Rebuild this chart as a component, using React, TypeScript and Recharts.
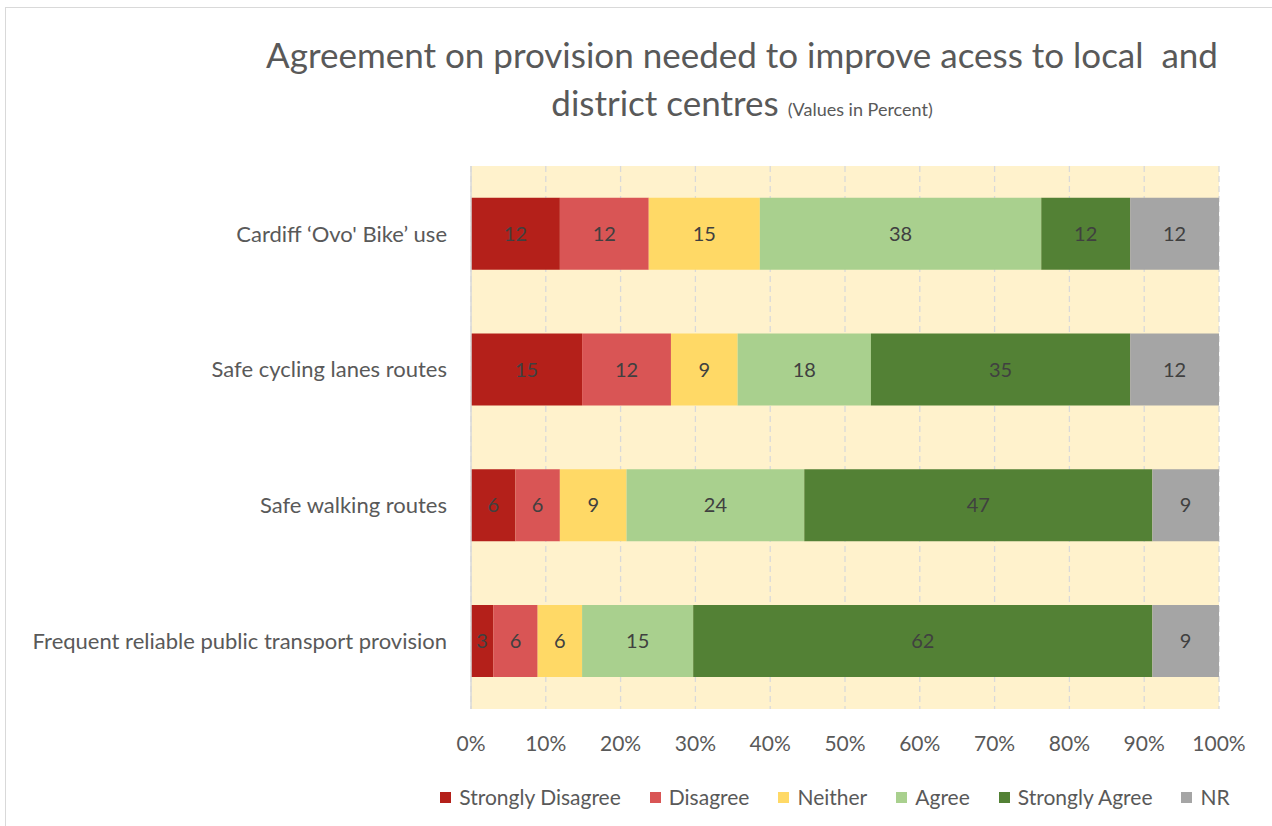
import React from "react";
import { BarChart, Bar, XAxis, YAxis, CartesianGrid, LabelList } from "recharts";

const categories = [
  "Cardiff ‘Ovo' Bike’ use",
  "Safe cycling lanes routes",
  "Safe walking routes",
  "Frequent reliable public transport provision",
];
const stronglyDisagree = [12, 15, 6, 3];
const disagree = [12, 12, 6, 6];
const neither = [15, 9, 9, 6];
const agree = [38, 18, 24, 15];
const stronglyAgree = [12, 35, 47, 62];
const noResponse = [12, 12, 9, 9];
const xTicks = [0, 0.1, 0.2, 0.3, 0.4, 0.5, 0.6, 0.7, 0.8, 0.9, 1];

const series = [
  { key: "sd", name: "Strongly Disagree", values: stronglyDisagree, color: "#B4201A" },
  { key: "d", name: "Disagree", values: disagree, color: "#D95555" },
  { key: "n", name: "Neither", values: neither, color: "#FFD966" },
  { key: "a", name: "Agree", values: agree, color: "#A9D08E" },
  { key: "sa", name: "Strongly Agree", values: stronglyAgree, color: "#538135" },
  { key: "nr", name: "NR", values: noResponse, color: "#A5A5A5" },
];

const data = categories.map((cat, i) => {
  const row: Record<string, string | number> = { cat };
  series.forEach((s) => (row[s.key] = s.values[i]));
  return row;
});

const font = "Lato, 'Open Sans', sans-serif";

export default function App() {
  return (
    <div style={{ position: "absolute", left: 0, top: 0, width: 1272, height: 826, background: "#fff", fontFamily: font, overflow: "hidden" }}>
      <div style={{ position: "absolute", left: 5, top: 7, width: 1300, height: 900, border: "1.5px solid #D9D9D9" }} />
      <div style={{ position: "absolute", left: 242, width: 1000, top: 30, textAlign: "center", color: "#595959", fontSize: 35, lineHeight: "48px" }}>
        Agreement on provision needed to improve acess to local&nbsp; and
        <br />
        district centres <span style={{ fontSize: 18 }}>(Values in Percent)</span>
      </div>
      <BarChart
        width={1272}
        height={826}
        data={data}
        layout="vertical"
        stackOffset="expand"
        barCategoryGap="23.4%"
        margin={{ top: 166, right: 53, bottom: 37, left: 21 }}
        style={{ position: "absolute", left: 0, top: 0 }}
      >
        <CartesianGrid horizontal={false} fill="#FFF2CC" stroke="#D9D9D9" strokeDasharray="6 4" strokeWidth={1.3} />
        <XAxis
          type="number"
          domain={[0, 1]}
          ticks={xTicks}
          tickFormatter={(v) => `${Math.round(v * 100)}%`}
          axisLine={false}
          tickLine={false}
          height={80}
          tickMargin={21}
          tick={{ fill: "#595959", fontSize: 21, fontFamily: font }}
          interval={0}
        />
        <YAxis
          type="category"
          dataKey="cat"
          width={450}
          axisLine={{ stroke: "#D9D9D9", strokeWidth: 1.5 }}
          tickLine={false}
          tickMargin={18}
          tick={{ fill: "#595959", fontSize: 22, fontFamily: font }}
          interval={0}
        />
        {series.map((s) => (
          <Bar key={s.key} dataKey={s.key} name={s.name} stackId="a" fill={s.color} isAnimationActive={false}>
            <LabelList dataKey={s.key} position="center" fill="#404040" fontSize={20} fontFamily={font} />
          </Bar>
        ))}
      </BarChart>
      <div style={{ position: "absolute", left: 400, width: 870, top: 783, display: "flex", justifyContent: "center", gap: 29, fontSize: 21, color: "#595959", lineHeight: "28px" }}>
        {series.map((s) => (
          <div key={s.key} style={{ display: "flex", alignItems: "center", gap: 8 }}>
            <span style={{ width: 11, height: 11, background: s.color, display: "inline-block" }} />
            <span>{s.name}</span>
          </div>
        ))}
      </div>
    </div>
  );
}
